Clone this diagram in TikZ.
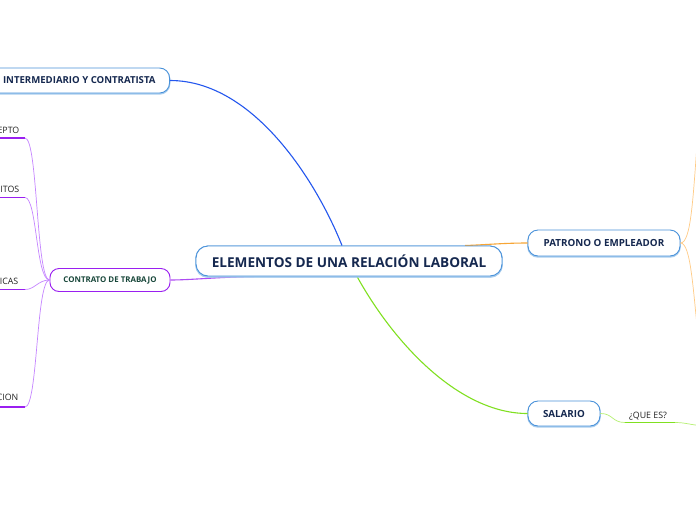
\documentclass[tikz,border=0pt]{standalone}
\usepackage{fontspec}
\setmainfont{Open Sans}
\usetikzlibrary{calc}
\definecolor{bordblue}{HTML}{4A92DA}
\definecolor{shadblue}{HTML}{A9CDEE}
\definecolor{navy}{HTML}{15284F}
\definecolor{purp}{HTML}{9A1FF0}
\definecolor{purplight}{HTML}{C585FF}
\definecolor{dgreen}{HTML}{18473A}
\definecolor{lineblue}{HTML}{2457EE}
\definecolor{lineorange}{HTML}{F7A535}
\definecolor{orangelight}{HTML}{FFCB85}
\definecolor{linegreen}{HTML}{80E020}
\definecolor{greenlight}{HTML}{B5F070}
\definecolor{subtext}{HTML}{222222}
\begin{document}
\begin{tikzpicture}[x=1pt,y=-1pt,
  topic/.style={draw=bordblue, line width=0.9pt, rounded corners=10pt, fill=white,
    text=navy, font=\bfseries\fontsize{9.8}{11}\selectfont, inner xsep=12pt, inner ysep=0pt,
    preaction={draw=shadblue, line width=1.6pt, transform canvas={yshift=-0.9pt}}},
  maintopic/.style={topic, font=\bfseries\fontsize{13.6}{15}\selectfont, rounded corners=12pt},
  purptopic/.style={draw=purp, line width=0.9pt, rounded corners=9pt, fill=white,
    text=dgreen, font=\bfseries\fontsize{7.9}{9}\selectfont, inner ysep=0pt},
  subtopic/.style={text=subtext, font=\fontsize{8.8}{10}\selectfont, inner sep=0pt},
  mainconn/.style={line width=1.1pt},
  thinconn/.style={line width=0.7pt},
  uline/.style={line width=1.8pt}]
\useasboundingbox[fill=white] (0,0) rectangle (696,520);

% nodes
\node[maintopic, minimum width=306pt, minimum height=30pt] (main) at (349,261) {ELEMENTOS DE UNA RELACIÓN LABORAL};
\node[topic, anchor=east, minimum height=25pt, inner xsep=14pt, font=\bfseries\fontsize{9.6}{11}\selectfont] (inter) at (170,80.5) {INTERMEDIARIO Y CONTRATISTA};
\node[purptopic, minimum width=120pt, minimum height=23pt] (contrato) at (110,280) {CONTRATO DE TRABAJO};
\node[topic, minimum width=152pt, minimum height=26pt] (patron) at (604,243) {PATRONO O EMPLEADOR};
\node[topic, minimum width=72pt, minimum height=25pt] (salario) at (564,413.5) {SALARIO};

% sub topics of contrato
\node[subtopic, anchor=base east] (l1) at (19.5,133) {EPTO};
\node[subtopic, anchor=base east] (l2) at (19.5,192) {ITOS};
\node[subtopic, anchor=base east] (l3) at (18.5,284) {ICAS};
\node[subtopic, anchor=base east] (l4) at (18.5,400.5) {CION};
\coordinate (u1a) at (-5,138); \coordinate (u1) at (25,138);
\coordinate (u2a) at (-5,197.5); \coordinate (u2) at (25,197.5);
\coordinate (u3a) at (-5,289.5); \coordinate (u3) at (25,289.5);
\coordinate (u4a) at (-5,407); \coordinate (u4) at (25,407);
\draw[uline, purp] (u1a) -- (u1);
\draw[uline, purp] (u2a) -- (u2);
\draw[uline, purp] (u3a) -- (u3);
\draw[uline, purp] (u4a) -- (u4);
\draw[thinconn, purplight] (contrato.west) .. controls (36,280) and (38,138) .. (u1);
\draw[thinconn, purplight] (contrato.west) .. controls (36,280) and (37,197.5) .. (u2);
\draw[thinconn, purplight] (contrato.west) .. controls (38,280) and (35,289.5) .. (u3);
\draw[thinconn, purplight] (contrato.west) .. controls (36,280) and (38,407) .. (u4);

% salario sub topic
\node[subtopic, anchor=base west] (que) at (629,418) {¿QUE ES?};
\coordinate (qa) at (625,422.5); \coordinate (qb) at (675,422.5); \coordinate (qc) at (705,426);
\draw[uline, linegreen] (qa) -- (qb);
\draw[thinconn, greenlight] (salario.east) .. controls (613,413.5) and (612,422.5) .. (qa);
\draw[thinconn, greenlight] (qb) .. controls (686,422.5) and (690,425) .. (qc);

% patron sub connectors (children off picture)
\coordinate (p1) at (698,130);
\coordinate (p2) at (699,345);
\draw[thinconn, orangelight] (patron.east) .. controls (691,243) and (693,200) .. (p1);
\draw[thinconn, orangelight] (patron.east) .. controls (691,243) and (693,290) .. (p2);

% main connectors
\draw[mainconn, lineblue] ([xshift=-7pt]main.north) .. controls (318,185) and (255,80.5) .. (inter.east);
\draw[mainconn, lineorange] ([xshift=116pt]main.north) .. controls (490,244.5) and (505,243) .. (patron.west);
\draw[mainconn, linegreen] ([xshift=8pt]main.south) .. controls (395,345) and (460,413.5) .. (salario.west);
\draw[mainconn, purp!80] ([xshift=-95pt]main.south) .. controls (220,277) and (190,280) .. (contrato.east);

% redraw main node on top
\node[maintopic, minimum width=306pt, minimum height=30pt] at (main) {ELEMENTOS DE UNA RELACIÓN LABORAL};
\end{tikzpicture}
\end{document}
